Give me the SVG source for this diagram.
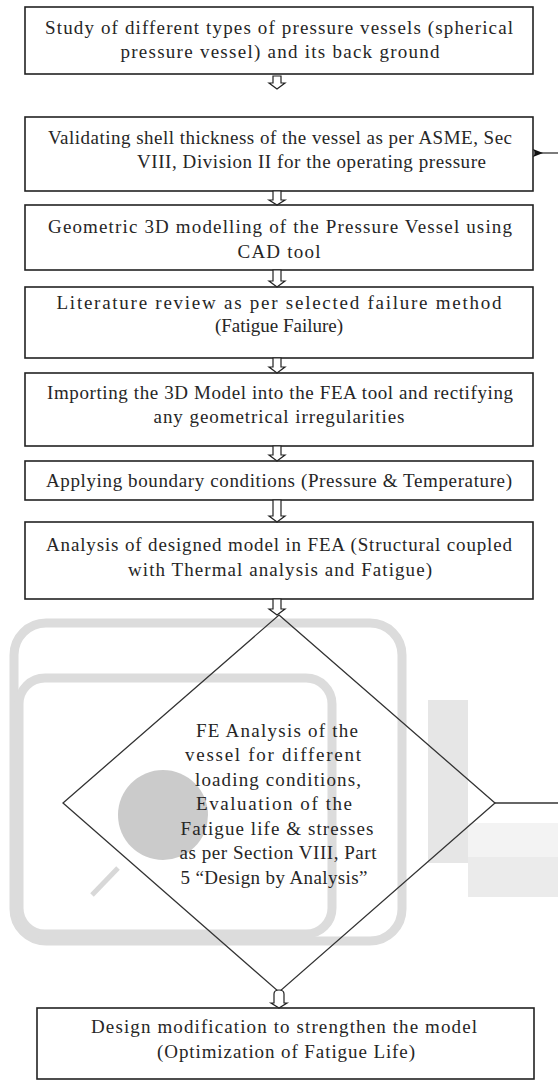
<svg xmlns="http://www.w3.org/2000/svg" width="558" height="1081" viewBox="0 0 558 1081">
<style>
.box{fill:#fff;stroke:#222;stroke-width:1.6}
.t{font-family:"Liberation Serif","Times New Roman",serif;font-size:19px;fill:#262626}
.c{text-anchor:middle}
.arr{fill:#fff;stroke:#222;stroke-width:1.2}
.ln{fill:none;stroke:#333;stroke-width:1.3}
.wm{fill:none;stroke:#dcdcdc;stroke-width:9}
</style>
<defs>
<marker id="ah" markerWidth="10" markerHeight="8" refX="9" refY="4" orient="auto" markerUnits="userSpaceOnUse">
<path d="M0,4 L10,0 L8,4 L10,8 Z" fill="#111"/>
</marker>
</defs>
<rect width="558" height="1081" fill="#fff"/>
<g id="watermark">
<rect x="14" y="623" width="388" height="318" rx="32" class="wm"/>
<rect x="19" y="678" width="313" height="256" rx="26" class="wm" stroke-width="7"/>
<circle cx="163" cy="815" r="45" fill="#cbcbcb"/>
<line x1="92" y1="895" x2="118" y2="868" stroke="#d8d8d8" stroke-width="5"/>
<rect x="428" y="700" width="40" height="163" fill="#e6e6e6"/>
<rect x="468" y="823" width="90" height="34" fill="#f3f3f3"/>
<rect x="468" y="857" width="90" height="40" fill="#ebebeb"/>
</g>
<g id="n1">
<rect x="25" y="7" width="508" height="67" class="box"/>
<text class="t c" x="279" y="34" textLength="468" lengthAdjust="spacing">Study of different types of pressure vessels (spherical</text>
<text class="t c" x="280" y="58" textLength="319" lengthAdjust="spacing">pressure vessel) and its back ground</text>
</g>
<g id="n2">
<rect x="25" y="117" width="508" height="74" class="box"/>
<text class="t c" x="280" y="144" textLength="464" lengthAdjust="spacing">Validating shell thickness of the vessel as per ASME, Sec</text>
<text class="t" x="137" y="168" textLength="349" lengthAdjust="spacing">VIII, Division II for the operating pressure</text>
</g>
<g id="n3">
<rect x="25" y="205" width="508" height="65" class="box"/>
<text class="t c" x="280" y="233" textLength="464" lengthAdjust="spacing">Geometric 3D modelling of the Pressure Vessel using</text>
<text class="t c" x="279" y="258" textLength="83" lengthAdjust="spacing">CAD tool</text>
</g>
<g id="n4">
<rect x="25" y="287" width="508" height="71" class="box"/>
<text class="t c" x="279" y="309" textLength="445" lengthAdjust="spacing">Literature review as per selected failure method</text>
<text class="t c" x="279" y="332">(Fatigue Failure)</text>
</g>
<g id="n5">
<rect x="25" y="373" width="508" height="73" class="box"/>
<text class="t c" x="280" y="399" textLength="466" lengthAdjust="spacing">Importing the 3D Model into the FEA tool and rectifying</text>
<text class="t c" x="279" y="423" textLength="251" lengthAdjust="spacing">any geometrical irregularities</text>
</g>
<g id="n6">
<rect x="25" y="461" width="508" height="39" class="box"/>
<text class="t c" x="279" y="487" textLength="466" lengthAdjust="spacing">Applying boundary conditions (Pressure &amp; Temperature)</text>
</g>
<g id="n7">
<rect x="25" y="522" width="508" height="77" class="box"/>
<text class="t c" x="279" y="551" textLength="466" lengthAdjust="spacing">Analysis of designed model in FEA (Structural coupled</text>
<text class="t c" x="280" y="576" textLength="304" lengthAdjust="spacing">with Thermal analysis and Fatigue)</text>
</g>
<g id="n8">
<polygon points="279,615 495,803 279,992 63,803" fill="none" stroke="#333" stroke-width="1.3"/>
<text class="t c" x="277" y="737" textLength="162" lengthAdjust="spacing">FE Analysis of the</text>
<text class="t c" x="273" y="761" textLength="176" lengthAdjust="spacing">vessel for different</text>
<text class="t c" x="278" y="786" textLength="166" lengthAdjust="spacing">loading conditions,</text>
<text class="t c" x="274" y="810" textLength="156" lengthAdjust="spacing">Evaluation of the</text>
<text class="t c" x="277" y="835" textLength="193" lengthAdjust="spacing">Fatigue life &amp; stresses</text>
<text class="t c" x="278" y="859" textLength="197" lengthAdjust="spacing">as per Section VIII, Part</text>
<text class="t c" x="274" y="884" textLength="187" lengthAdjust="spacing">5 “Design by Analysis”</text>
</g>
<g id="n9">
<rect x="37" y="1008" width="497" height="71" class="box"/>
<text class="t c" x="284" y="1033" textLength="386" lengthAdjust="spacing">Design modification to strengthen the model</text>
<text class="t c" x="286" y="1058" textLength="258" lengthAdjust="spacing">(Optimization of Fatigue Life)</text>
</g>
<g id="connectors">
<path class="arr" d="M273,76 V83 H269 L277,89 L285,83 H281 V76 Z"/>
<path class="arr" d="M273,191 V200 H269 L277,205 L285,200 H281 V191 Z"/>
<path class="arr" d="M273,270 V281 H269 L277,287 L285,281 H281 V270 Z"/>
<path class="arr" d="M273,358 V367 H269 L277,373 L285,367 H281 V358 Z"/>
<path class="arr" d="M273,446 V455 H269 L277,461 L285,455 H281 V446 Z"/>
<path class="arr" d="M273,500 V516 H269 L277,522 L285,516 H281 V500 Z"/>
<path class="arr" d="M273,599 V609 H269 L277,615 L285,609 H281 V599 Z"/>
<path class="arr" d="M274,994 Q274,990 279,990 Q284,990 284,994 V1003 H287 L279,1008 L271,1003 H274 Z"/>
<line class="ln" x1="495" y1="803" x2="558" y2="803"/>
<line class="ln" x1="558" y1="153" x2="534" y2="153" marker-end="url(#ah)"/>
</g>
</svg>
